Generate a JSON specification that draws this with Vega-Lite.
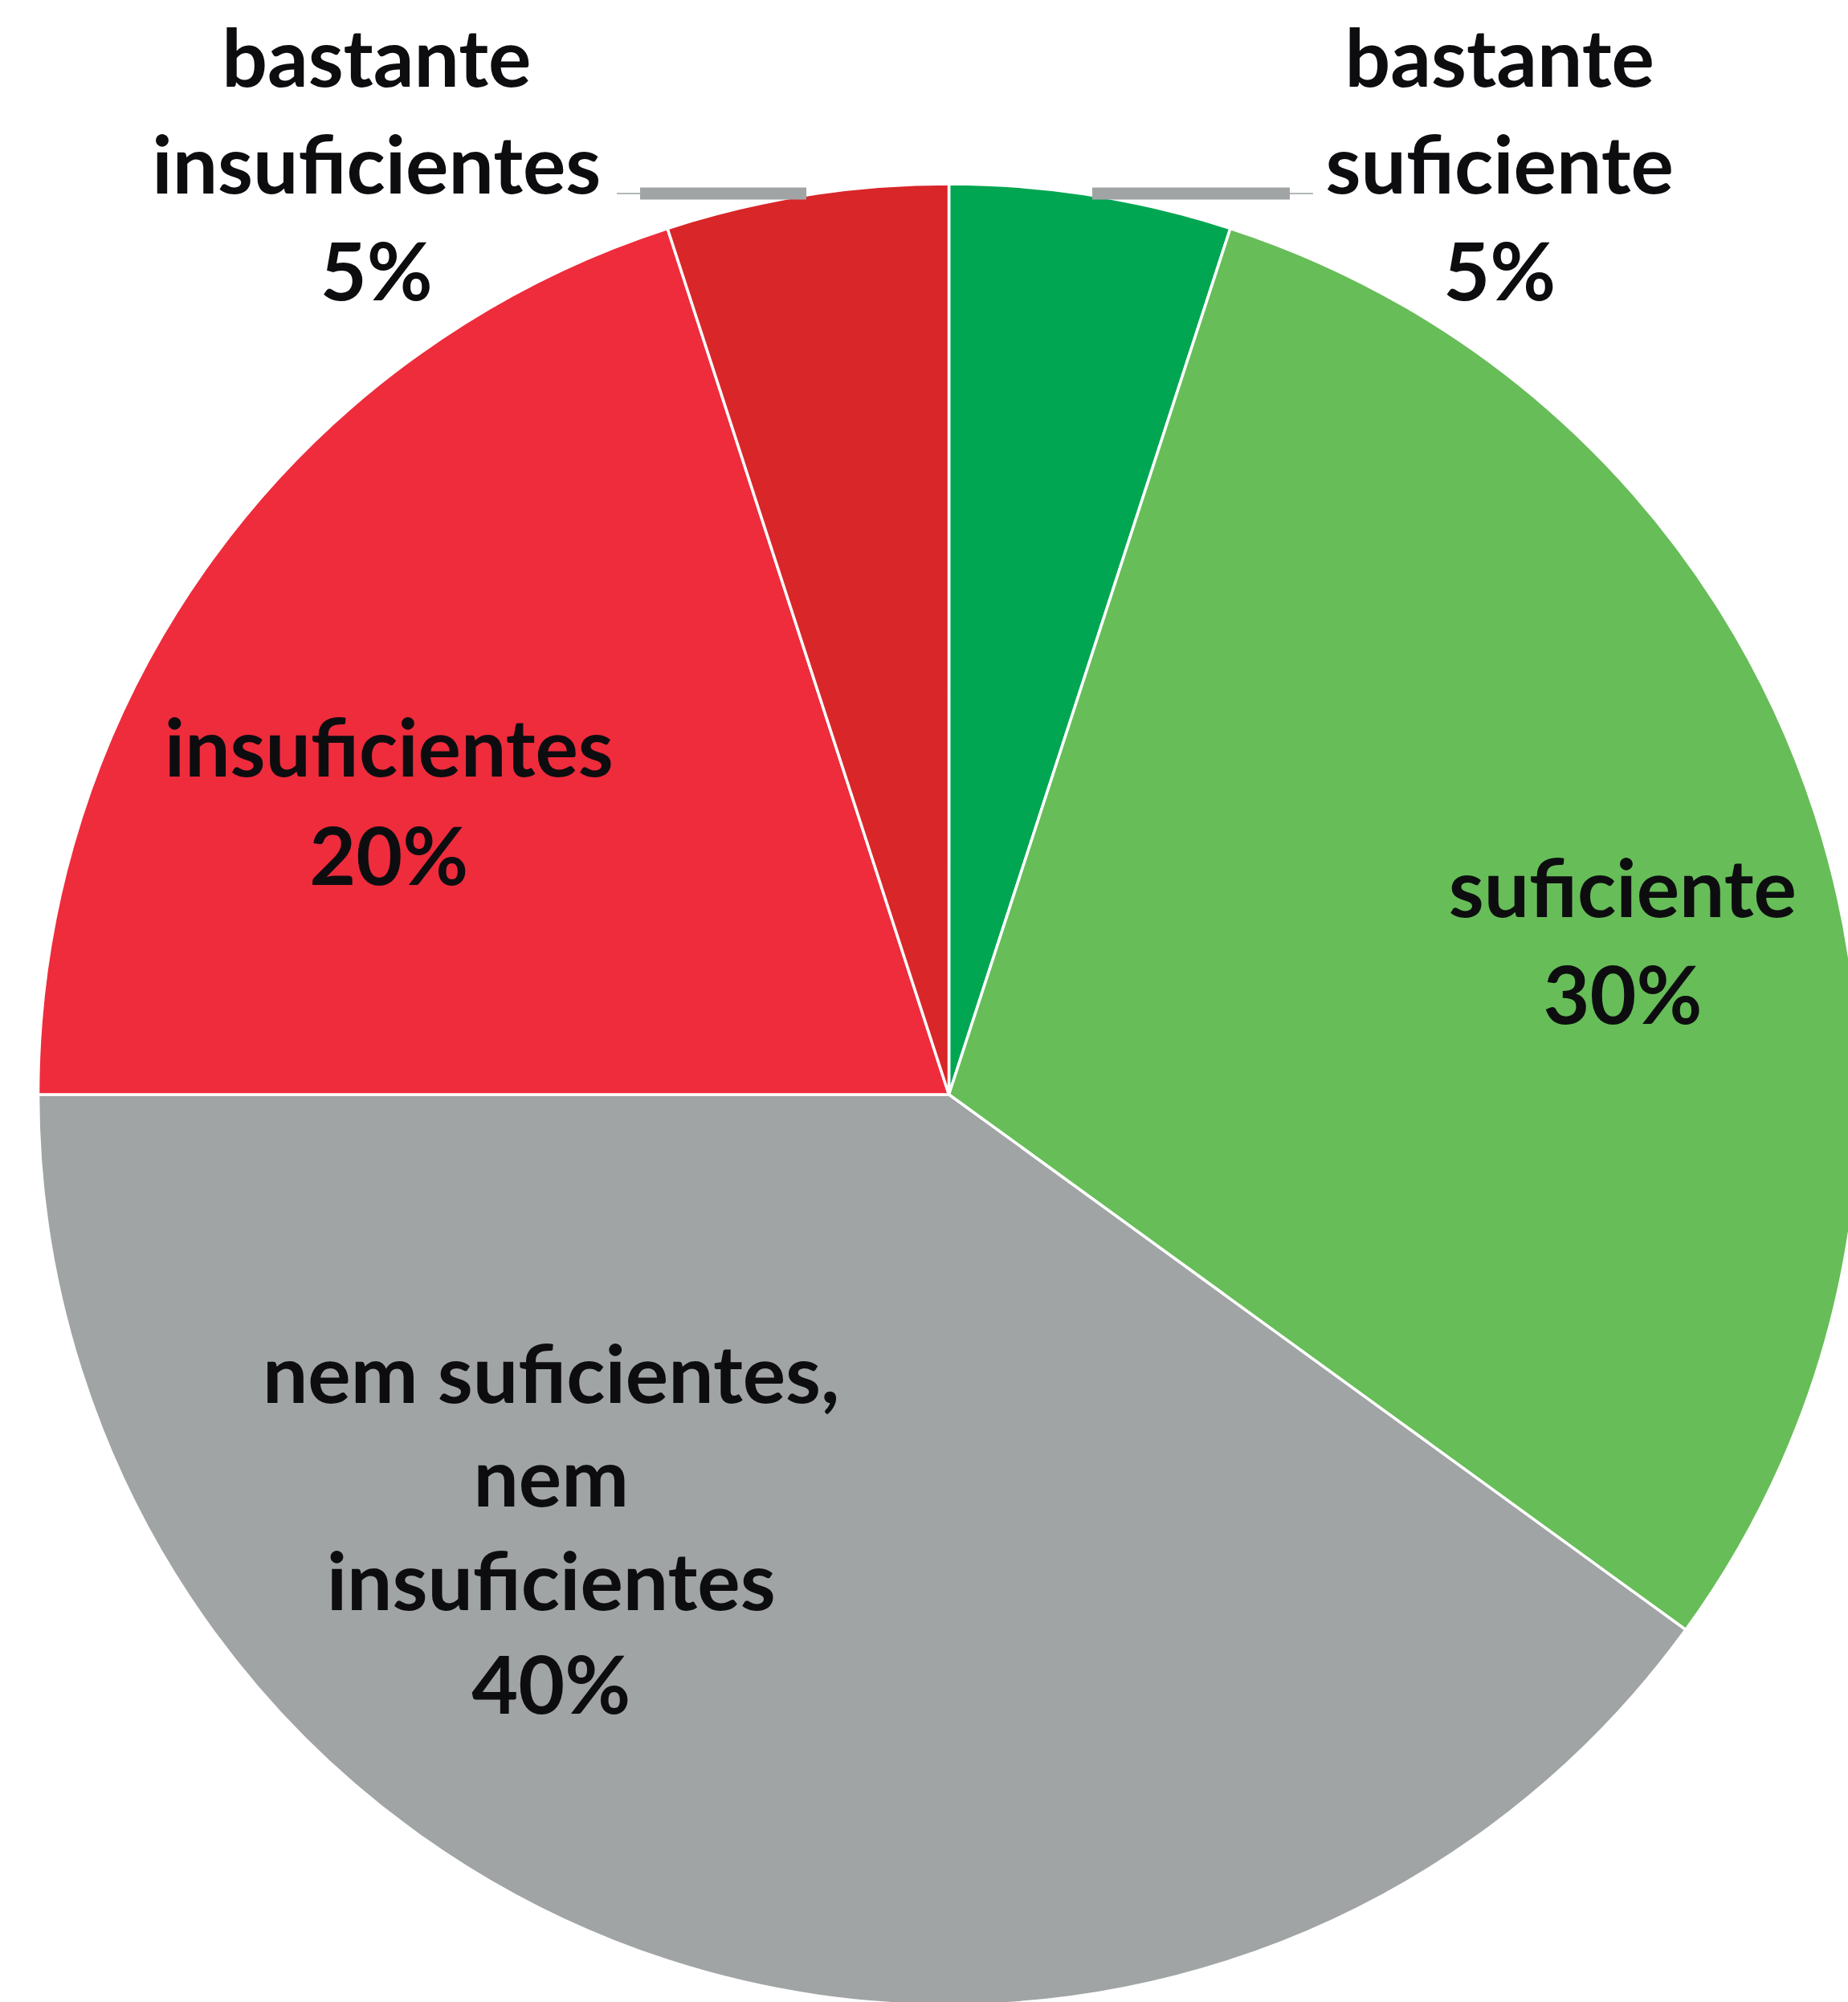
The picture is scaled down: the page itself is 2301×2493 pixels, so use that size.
{
  "$schema": "https://vega.github.io/schema/vega-lite/v6.json",
  "width": 2301,
  "height": 2493,
  "autosize": {"type": "none"},
  "padding": 0,
  "background": "white",
  "config": {"view": {"stroke": null}},
  "datasets": {
    "fatias": [
      {"categoria": "bastante suficiente", "valor": 5, "ordem": 1, "rotulo": ["bastante", "suficiente", "5%"]},
      {"categoria": "suficiente", "valor": 30, "ordem": 2, "rotulo": ["suficiente", "30%"]},
      {"categoria": "nem suficientes, nem insuficientes", "valor": 40, "ordem": 3, "rotulo": ["nem suficientes,", "nem", "insuficientes", "40%"]},
      {"categoria": "insuficientes", "valor": 20, "ordem": 4, "rotulo": ["insuficientes", "20%"]},
      {"categoria": "bastante insuficientes", "valor": 5, "ordem": 5, "rotulo": ["bastante", "insuficientes", "5%"]}
    ],
    "guias_grossas": [
      {"fatia": "bastante suficiente", "inicio": 0.1574, "fim": 0.3743, "altura": 0.9894},
      {"fatia": "bastante insuficientes", "inicio": -0.3391, "fim": -0.1565, "altura": 0.9894}
    ],
    "guias_finas": [
      {"fatia": "bastante suficiente", "inicio": 0.3743, "fim": 0.3999, "altura": 0.9894},
      {"fatia": "bastante insuficientes", "inicio": -0.3646, "fim": -0.3391, "altura": 0.9894}
    ]
  },
  "layer": [
    {
      "data": {"name": "fatias"},
      "mark": {"type": "arc", "outerRadius": 1134, "stroke": "white", "strokeWidth": 3.5},
      "encoding": {
        "x": {"datum": 0, "type": "quantitative", "scale": {"domain": [-1.0419, 0.9872], "nice": false, "zero": false}, "axis": null},
        "y": {"datum": 0, "type": "quantitative", "scale": {"domain": [-0.9965, 1.2019], "nice": false, "zero": false}, "axis": null},
        "theta": {"field": "valor", "type": "quantitative", "stack": true},
        "order": {"field": "ordem", "type": "quantitative"},
        "color": {
          "field": "categoria",
          "type": "nominal",
          "legend": null,
          "scale": {
            "domain": ["bastante suficiente", "suficiente", "nem suficientes, nem insuficientes", "insuficientes", "bastante insuficientes"],
            "range": ["#00A651", "#67BD58", "#A0A4A5", "#EE2C3C", "#D92629"]
          }
        }
      }
    },
    {
      "data": {"name": "guias_grossas"},
      "mark": {"type": "rule", "color": "#A0A4A5", "strokeWidth": 15},
      "encoding": {
        "x": {"field": "inicio", "type": "quantitative", "scale": {"domain": [-1.0419, 0.9872], "nice": false, "zero": false}, "axis": null},
        "x2": {"field": "fim"},
        "y": {"field": "altura", "type": "quantitative", "scale": {"domain": [-0.9965, 1.2019], "nice": false, "zero": false}, "axis": null}
      }
    },
    {
      "data": {"name": "guias_finas"},
      "mark": {"type": "rule", "color": "#B4B7B8", "strokeWidth": 2},
      "encoding": {
        "x": {"field": "inicio", "type": "quantitative", "scale": {"domain": [-1.0419, 0.9872], "nice": false, "zero": false}, "axis": null},
        "x2": {"field": "fim"},
        "y": {"field": "altura", "type": "quantitative", "scale": {"domain": [-0.9965, 1.2019], "nice": false, "zero": false}, "axis": null}
      }
    },
    {
      "data": {"name": "fatias"},
      "mark": {"type": "text", "radius": 1200, "dx": 498, "dy": -70, "align": "center", "baseline": "alphabetic", "font": "Lato", "fontWeight": "bold", "fontSize": 100, "lineHeight": 133, "fill": "#0D0D10"},
      "encoding": {
        "x": {"datum": 0, "type": "quantitative", "axis": null},
        "y": {"datum": 0, "type": "quantitative", "axis": null},
        "theta": {"field": "valor", "type": "quantitative", "stack": true},
        "order": {"field": "ordem", "type": "quantitative"},
        "detail": {"field": "categoria", "type": "nominal"},
        "text": {"condition": {"test": "datum.categoria === 'bastante suficiente'", "field": "rotulo"}, "value": ""}
      }
    },
    {
      "data": {"name": "fatias"},
      "mark": {"type": "text", "radius": 800, "dx": 78, "dy": 26, "align": "center", "baseline": "alphabetic", "font": "Lato", "fontWeight": "bold", "fontSize": 100, "lineHeight": 133, "fill": "#0D0D10"},
      "encoding": {
        "x": {"datum": 0, "type": "quantitative", "axis": null},
        "y": {"datum": 0, "type": "quantitative", "axis": null},
        "theta": {"field": "valor", "type": "quantitative", "stack": true},
        "order": {"field": "ordem", "type": "quantitative"},
        "detail": {"field": "categoria", "type": "nominal"},
        "text": {"condition": {"test": "datum.categoria === 'suficiente'", "field": "rotulo"}, "value": ""}
      }
    },
    {
      "data": {"name": "fatias"},
      "mark": {"type": "text", "radius": 700, "dx": -279, "dy": -282, "align": "center", "baseline": "alphabetic", "font": "Lato", "fontWeight": "bold", "fontSize": 100, "lineHeight": 129, "fill": "#0D0D10"},
      "encoding": {
        "x": {"datum": 0, "type": "quantitative", "axis": null},
        "y": {"datum": 0, "type": "quantitative", "axis": null},
        "theta": {"field": "valor", "type": "quantitative", "stack": true},
        "order": {"field": "ordem", "type": "quantitative"},
        "detail": {"field": "categoria", "type": "nominal"},
        "text": {"condition": {"test": "datum.categoria === 'nem suficientes, nem insuficientes'", "field": "rotulo"}, "value": ""}
      }
    },
    {
      "data": {"name": "fatias"},
      "mark": {"type": "text", "radius": 800, "dx": -50, "dy": 74, "align": "center", "baseline": "alphabetic", "font": "Lato", "fontWeight": "bold", "fontSize": 100, "lineHeight": 135, "fill": "#0D0D10"},
      "encoding": {
        "x": {"datum": 0, "type": "quantitative", "axis": null},
        "y": {"datum": 0, "type": "quantitative", "axis": null},
        "theta": {"field": "valor", "type": "quantitative", "stack": true},
        "order": {"field": "ordem", "type": "quantitative"},
        "detail": {"field": "categoria", "type": "nominal"},
        "text": {"condition": {"test": "datum.categoria === 'insuficientes'", "field": "rotulo"}, "value": ""}
      }
    },
    {
      "data": {"name": "fatias"},
      "mark": {"type": "text", "radius": 1200, "dx": -525, "dy": -70, "align": "center", "baseline": "alphabetic", "font": "Lato", "fontWeight": "bold", "fontSize": 100, "lineHeight": 133, "fill": "#0D0D10"},
      "encoding": {
        "x": {"datum": 0, "type": "quantitative", "axis": null},
        "y": {"datum": 0, "type": "quantitative", "axis": null},
        "theta": {"field": "valor", "type": "quantitative", "stack": true},
        "order": {"field": "ordem", "type": "quantitative"},
        "detail": {"field": "categoria", "type": "nominal"},
        "text": {"condition": {"test": "datum.categoria === 'bastante insuficientes'", "field": "rotulo"}, "value": ""}
      }
    }
  ]
}
